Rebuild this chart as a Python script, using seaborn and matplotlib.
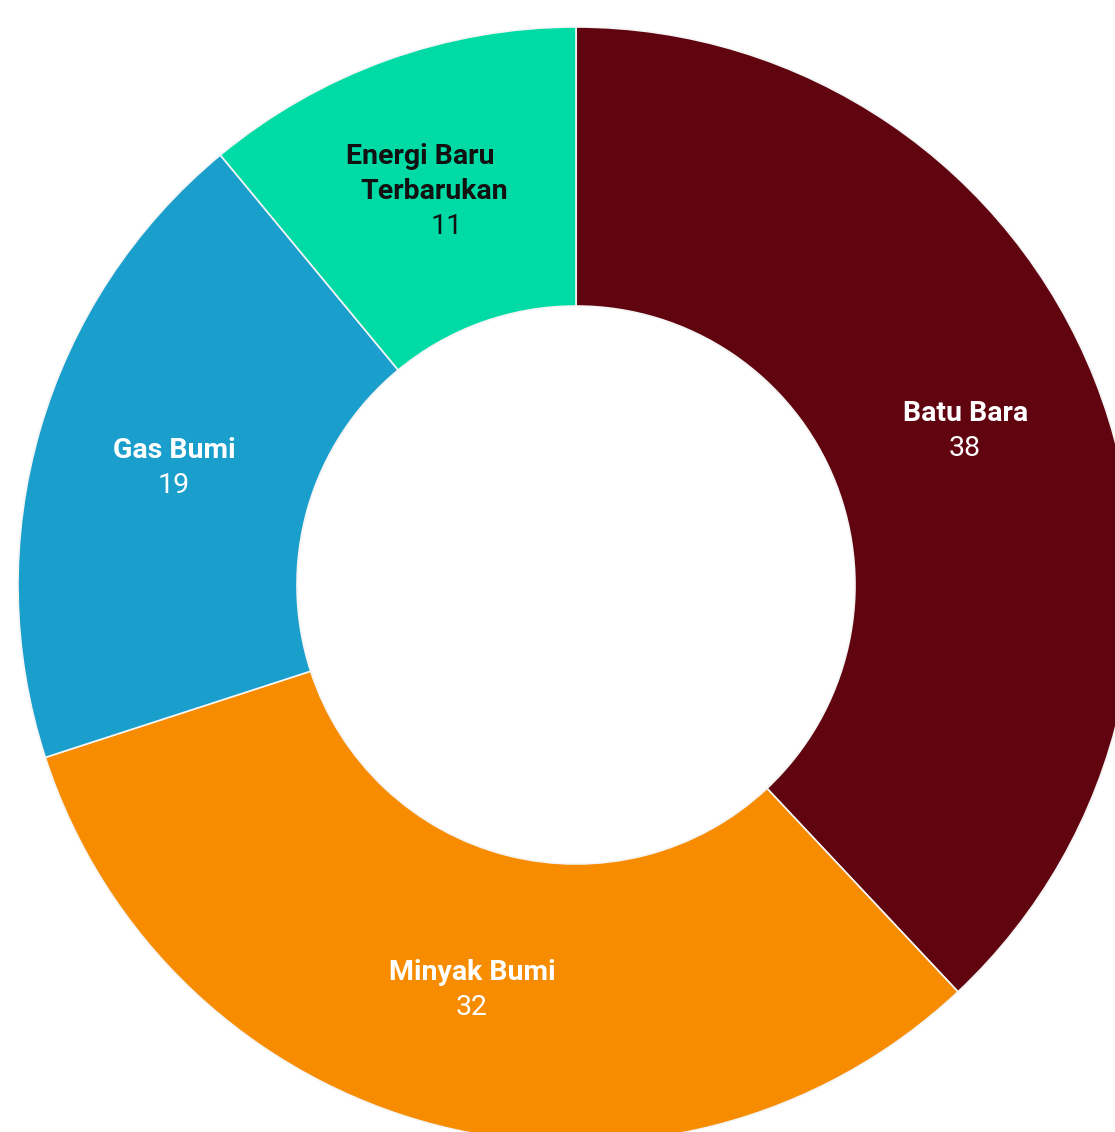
import matplotlib
matplotlib.use("Agg")
import matplotlib.pyplot as plt
import numpy as np
import seaborn as sns

sns.set_theme(style="white")
plt.rcParams["font.family"] = ["Roboto", "DejaVu Sans"]

categories = ["Batu Bara", "Minyak Bumi", "Gas Bumi", "Energi Baru\nTerbarukan"]
values = [38, 32, 19, 11]
colors = ["#600510", "#F78C00", "#1A9FCD", "#00DBA6"]
text_colors = ["white", "white", "white", "#111111"]
# small horizontal nudges per label line (name lines, then value)
line_nudges = [[0, 0], [0, 0], [0, 0], [-14, 0, 12]]

W, H = 1115, 1132
fig = plt.figure(figsize=(W / 100, H / 100), dpi=100)
ax = fig.add_axes([0, 0, 1, 1])

cx, cy, R = 576, H - 585, 558
ax.pie(
    values,
    colors=colors,
    startangle=90,
    counterclock=False,
    center=(cx, cy),
    radius=R,
    frame=True,
    wedgeprops=dict(width=R * 0.5, edgecolor="#f5f5f5", linewidth=1.2),
)
ax.set_xlim(0, W)
ax.set_ylim(0, H)
ax.set_aspect("equal")
ax.axis("off")

mid_r = R * 0.75
cum = np.cumsum([0] + values)
total = sum(values)
line_h = 35
for i, (name, v) in enumerate(zip(categories, values)):
    frac = (cum[i] + v / 2) / total
    ang = np.deg2rad(90 - 360 * frac)
    x = cx + mid_r * np.cos(ang)
    y = cy + mid_r * np.sin(ang)
    lines = name.split("\n")
    n_all = len(lines) + 1
    start = y + line_h * (n_all - 1) / 2
    nud = line_nudges[i]
    for j, ln in enumerate(lines):
        ax.text(x + nud[j], start - j * line_h, ln, ha="center", va="center",
                fontsize=20.5, fontweight="bold", color=text_colors[i])
    ax.text(x + nud[len(lines)], start - len(lines) * line_h, str(v),
            ha="center", va="center", fontsize=20.5, color=text_colors[i])

fig.savefig("out.png", dpi=100)
